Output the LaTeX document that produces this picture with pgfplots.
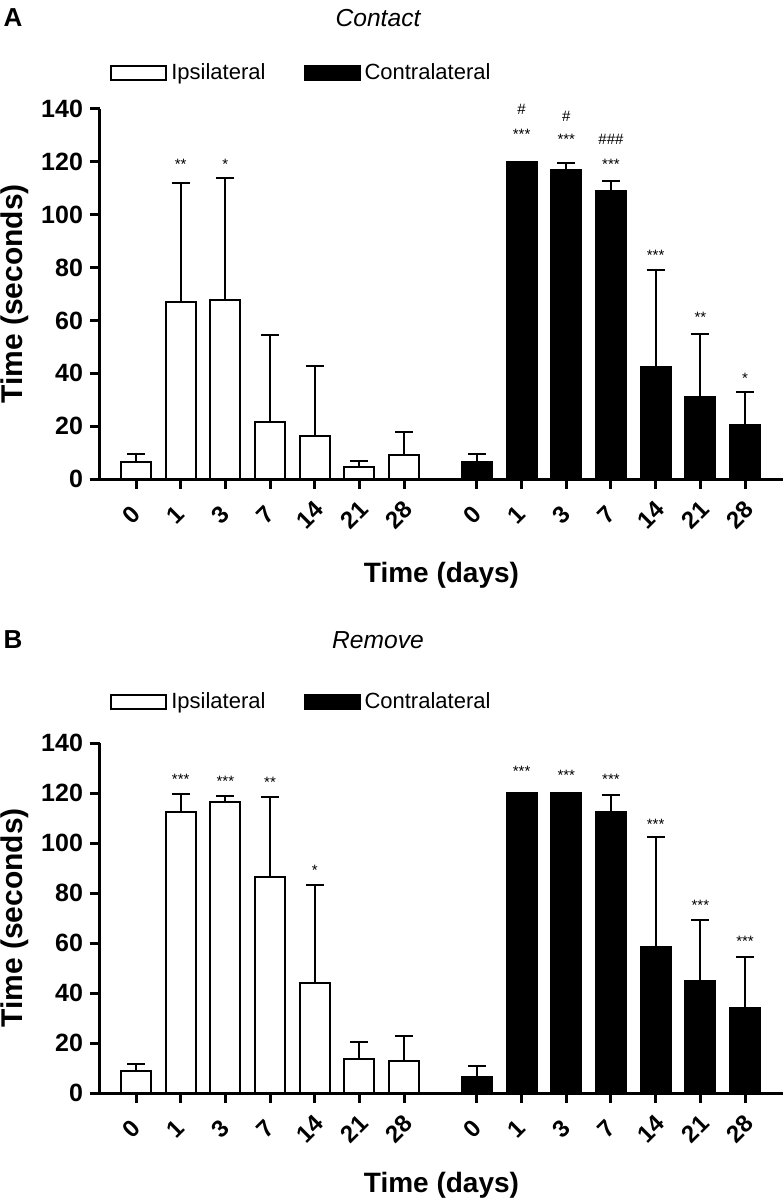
\documentclass[border=0pt]{standalone}
\usepackage{fontspec}
\setmainfont{Liberation Sans}
\usepackage{pgfplots}
\usepackage{pgfplotstable}
\pgfplotsset{compat=1.18}

\pgfplotstableread{
x y e
0 6.6 3.0
1 66.8 45.2
2 67.8 46.2
3 21.7 32.9
4 16.4 26.2
5 4.5 2.2
6 9.2 8.5
}\ipsiA
\pgfplotstableread{
x y e
7.63 6.4 3.1
8.63 120 0
9.63 117 2.5
10.63 109 3.6
11.63 42.4 36.5
12.63 31 24
13.63 20.6 12.4
}\contraA
\pgfplotstableread{
x y e
0 8.7 2.9
1 112.5 7.2
2 116.4 2.3
3 86.3 32.2
4 43.9 39.3
5 13.6 6.9
6 12.9 10.1
}\ipsiB
\pgfplotstableread{
x y e
7.63 6.5 4.3
8.63 120 0
9.63 120 0
10.63 112.4 6.7
11.63 58.5 43.8
12.63 45 24.2
13.63 34 20.3
}\contraB

\pgfplotsset{
  panel/.style={
    scale only axis,
    width=341.5pt,
    xmin=-0.806, xmax=14.48,
    ymin=0, ymax=140,
    ytick={0,20,...,140},
    xtick={0,1,2,3,4,5,6,7.63,8.63,9.63,10.63,11.63,12.63,13.63},
    xticklabels={0,1,3,7,14,21,28,0,1,3,7,14,21,28},
    axis x line*=bottom, axis y line*=left,
    axis line style={line width=1.5pt,-},
    every outer x axis line/.append style={-},
    every outer y axis line/.append style={-},
    tick align=outside,
    major tick length=5pt,
    tick style={line width=1.5pt, black},
    /pgf/number format/assume math mode=true,
    ticklabel style={font=\bfseries\fontsize{12.5}{14}\selectfont},
    xticklabel style={font=\bfseries\fontsize{12}{14}\selectfont, inner sep=0pt, yshift=-13pt, xshift=-2.5pt, rotate=45, anchor=center},
    clip=false,
    every axis y label/.style={at={(axis description cs:-0.1245,0.5)}, rotate=90, anchor=center, font=\bfseries\fontsize{15}{17}\selectfont},
    ylabel={Time (seconds)},
    xlabel={Time (days)},
    legend columns=2,
    legend image code/.code={\draw[#1, line width=1pt] (0pt,-3.5pt) rectangle (27.5pt,3.5pt);},
    error bars/error bar style={line width=1pt, black},
    error bars/error mark options={rotate=90, mark size=4.5pt, line width=1pt, black},
    every node near coord/.append style={anchor=center, inner sep=0pt, font=\fontsize{7.5}{8}\selectfont, black},
  },
  ipsi/.style={ybar, bar width=0.67, bar shift=0pt, fill=white, draw=black, line width=1pt,
    error bars/.cd, y dir=plus, y explicit},
  contra/.style={ybar, bar width=0.67, bar shift=0pt, fill=black, draw=black, line width=1pt,
    error bars/.cd, y dir=plus, y explicit},
  annot/.style={draw=none, mark=none, nodes near coords, point meta=explicit symbolic, forget plot},
}

\begin{document}
\begin{tikzpicture}
\useasboundingbox (0,0) rectangle (391.5pt,-599pt);

\node[font=\bfseries\fontsize{13}{14}\selectfont] at (6.5pt,-9pt) {A};
\node[font=\itshape\fontsize{12.3}{14}\selectfont] at (189pt,-9pt) {Contact};
\node[font=\bfseries\fontsize{13}{14}\selectfont] at (6.5pt,-320pt) {B};
\node[font=\itshape\fontsize{12.3}{14}\selectfont] at (189pt,-320pt) {Remove};

% Panel A
\begin{axis}[panel, height=185pt, at={(50pt,-239.5pt)}, anchor=south west,
  every axis x label/.style={at={(axis description cs:0.5,-0.259)}, anchor=center, font=\bfseries\fontsize{14}{16}\selectfont},
  legend style={at={(axis description cs:0.0146,1.097)}, anchor=west, draw=none, fill=none, inner sep=0pt,
    font=\fontsize{11}{13}\selectfont, /tikz/every even column/.append style={column sep=17pt}},
  legend cell align=left]
\addplot[ipsi] table[x=x, y=y, y error plus=e] {\ipsiA};
\addlegendentry{Ipsilateral}
\addplot[contra] table[x=x, y=y, y error plus=e] {\contraA};
\addlegendentry{Contralateral}
\addplot[annot] coordinates {
  (1,119.2) [**] (2,119) [*]
  (8.63,130.5) [***] (8.63,139.7) [\#]
  (9.63,128.4) [***] (9.63,137.2) [\#]
  (10.63,119.2) [***] (10.63,128.6) [\#\#\#]
  (11.63,84.7) [***] (12.63,61.2) [**] (13.63,38.1) [*]
};
\end{axis}

% Panel B
\begin{axis}[panel, height=175pt, at={(50pt,-546.5pt)}, anchor=south west,
  every axis x label/.style={at={(axis description cs:0.5,-0.263)}, anchor=center, font=\bfseries\fontsize{14}{16}\selectfont},
  legend style={at={(axis description cs:0.0146,1.117)}, anchor=west, draw=none, fill=none, inner sep=0pt,
    font=\fontsize{11}{13}\selectfont, /tikz/every even column/.append style={column sep=17pt}},
  legend cell align=left]
\addplot[ipsi] table[x=x, y=y, y error plus=e] {\ipsiB};
\addlegendentry{Ipsilateral}
\addplot[contra] table[x=x, y=y, y error plus=e] {\contraB};
\addlegendentry{Contralateral}
\addplot[annot] coordinates {
  (1,125.5) [***] (2,124.6) [***] (3,124.2) [**] (4,88.9) [*]
  (8.63,128.5) [***] (9.63,126.9) [***] (10.63,125.5) [***]
  (11.63,107.5) [***] (12.63,75.1) [***] (13.63,60.5) [***]
};
\end{axis}
\end{tikzpicture}
\end{document}
